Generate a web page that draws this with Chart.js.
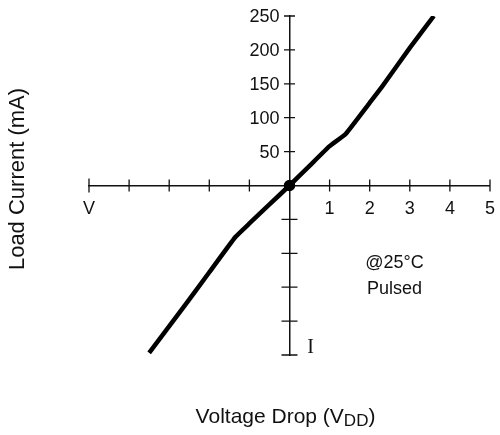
<!DOCTYPE html>
<html>
<head>
<meta charset="utf-8">
<script src="https://cdn.jsdelivr.net/npm/chart.js@4/dist/chart.umd.min.js"></script>
<style>
  html, body { margin: 0; padding: 0; background: #fff; }
  #wrap { width: 500px; height: 435px; }
</style>
</head>
<body>
<div id="wrap"><canvas id="ivChart" width="500" height="435"></canvas></div>
<script>
// voltage drop (V) vs load current (mA)
var voltage = [-3.5, -2.6, -2.0, -1.35, -1.0, -0.5, 0, 0.5, 1.0, 1.4, 2.0, 2.3, 3.0, 3.6];
var current = [-247, -176, -128, -76, -56, -28, 0, 29, 58, 76, 122, 145, 203, 250];

var xTicks = [-5, -4, -3, -2, -1, 0, 1, 2, 3, 4, 5];
var yTicks = [-250, -200, -150, -100, -50, 0, 50, 100, 150, 200, 250];
var yLabels = [50, 100, 150, 200, 250];

var FONT = '"Liberation Sans", Arial, Helvetica, sans-serif';

var points = [];
for (var i = 0; i < voltage.length; i++) {
	points.push({ x: voltage[i], y: current[i] });
}

// tick marks cross the axis on both sides, plus the loose labels
var crossTicks = {
	id: 'crossTicks',
	afterDraw: function(chart) {
		var ctx = chart.ctx;
		var xs = chart.scales.x, ys = chart.scales.y;
		var x0 = xs.getPixelForValue(0), y0 = ys.getPixelForValue(0);
		ctx.save();
		ctx.strokeStyle = '#111';
		ctx.lineWidth = 1.3;
		ctx.beginPath();
		xTicks.forEach(function(v) {
			if (v === 0) return;
			var px = xs.getPixelForValue(v);
			var h = (v === -5) ? 7 : 6;
			ctx.moveTo(px, y0 - h);
			ctx.lineTo(px, y0 + h);
		});
		yTicks.forEach(function(v) {
			if (v === 0) return;
			var py = ys.getPixelForValue(v);
			var w = v > 0 ? 5.5 : 8;
			ctx.moveTo(x0 - w, py);
			ctx.lineTo(x0 + w, py);
		});
		ctx.stroke();

		ctx.fillStyle = '#111';
		// current tick labels, left of the axis
		ctx.font = '18px ' + FONT;
		ctx.textAlign = 'right';
		ctx.textBaseline = 'middle';
		yLabels.forEach(function(v) {
			ctx.fillText(String(v), x0 - 10, ys.getPixelForValue(v) + 1);
		});

		ctx.textAlign = 'center';
		var nx = xs.getPixelForValue(2.62);
		ctx.fillText('@25°C', nx, ys.getPixelForValue(-115));
		ctx.fillText('Pulsed', nx, ys.getPixelForValue(-152));

		// current axis marker
		ctx.font = '20px "Liberation Serif", "Times New Roman", serif';
		ctx.fillText('I', x0 + 21, ys.getPixelForValue(-240));

		// axis titles
		ctx.font = '22px ' + FONT;
		ctx.save();
		ctx.translate(18, 179);
		ctx.rotate(-Math.PI / 2);
		ctx.fillText('Load Current (mA)', 0, 0);
		ctx.restore();

		var t1 = 'Voltage Drop (V', t2 = 'DD', t3 = ')';
		var f1 = '21px ' + FONT, f2 = '17px ' + FONT;
		ctx.font = f1;
		var w1 = ctx.measureText(t1).width, w3 = ctx.measureText(t3).width;
		ctx.font = f2;
		var w2 = ctx.measureText(t2).width;
		var sx = x0 - (w1 + w2 + w3) / 2 - 4, sy = 417;
		ctx.textAlign = 'left';
		ctx.font = f1;
		ctx.fillText(t1, sx, sy);
		ctx.font = f2;
		ctx.fillText(t2, sx + w1, sy + 4);
		ctx.font = f1;
		ctx.fillText(t3, sx + w1 + w2, sy);
		ctx.restore();
	}
};

var ivChart = new Chart(document.getElementById('ivChart').getContext('2d'), {
	type: 'scatter',
	data: {
		datasets: [{
			data: points,
			showLine: true,
			borderColor: '#000',
			backgroundColor: '#000',
			borderWidth: 4.5,
			tension: 0.1,
			pointRadius: function(c) { return current[c.dataIndex] === 0 ? 3.5 : 0; },
			pointHoverRadius: 0
		}]
	},
	options: {
		responsive: false,
		animation: false,
		events: [],
		layout: { padding: { left: 89, top: 16, right: 6, bottom: 80 } },
		plugins: { legend: { display: false }, tooltip: { enabled: false } },
		scales: {
			x: {
				type: 'linear',
				min: -5, max: 5,
				position: { y: 0 },
				grid: { display: false, drawTicks: true, tickLength: 8 },
				border: { display: true, color: '#111', width: 1.5 },
				afterBuildTicks: function(s) { s.ticks = xTicks.map(function(v) { return { value: v }; }); },
				ticks: {
					autoSkip: false, maxRotation: 0,
					padding: 5,
					color: '#111',
					font: { family: FONT, size: 18 },
					callback: function(v) { return v > 0 ? String(v) : (v === -5 ? 'V' : ''); }
				}
			},
			y: {
				type: 'linear',
				min: -250, max: 250,
				position: { x: 0 },
				grid: { display: false, drawTicks: false },
				border: { display: true, color: '#111', width: 1.5 },
				afterBuildTicks: function(s) { s.ticks = yTicks.map(function(v) { return { value: v }; }); },
				ticks: { display: false }
			}
		}
	},
	plugins: [crossTicks]
});
</script>
</body>
</html>
